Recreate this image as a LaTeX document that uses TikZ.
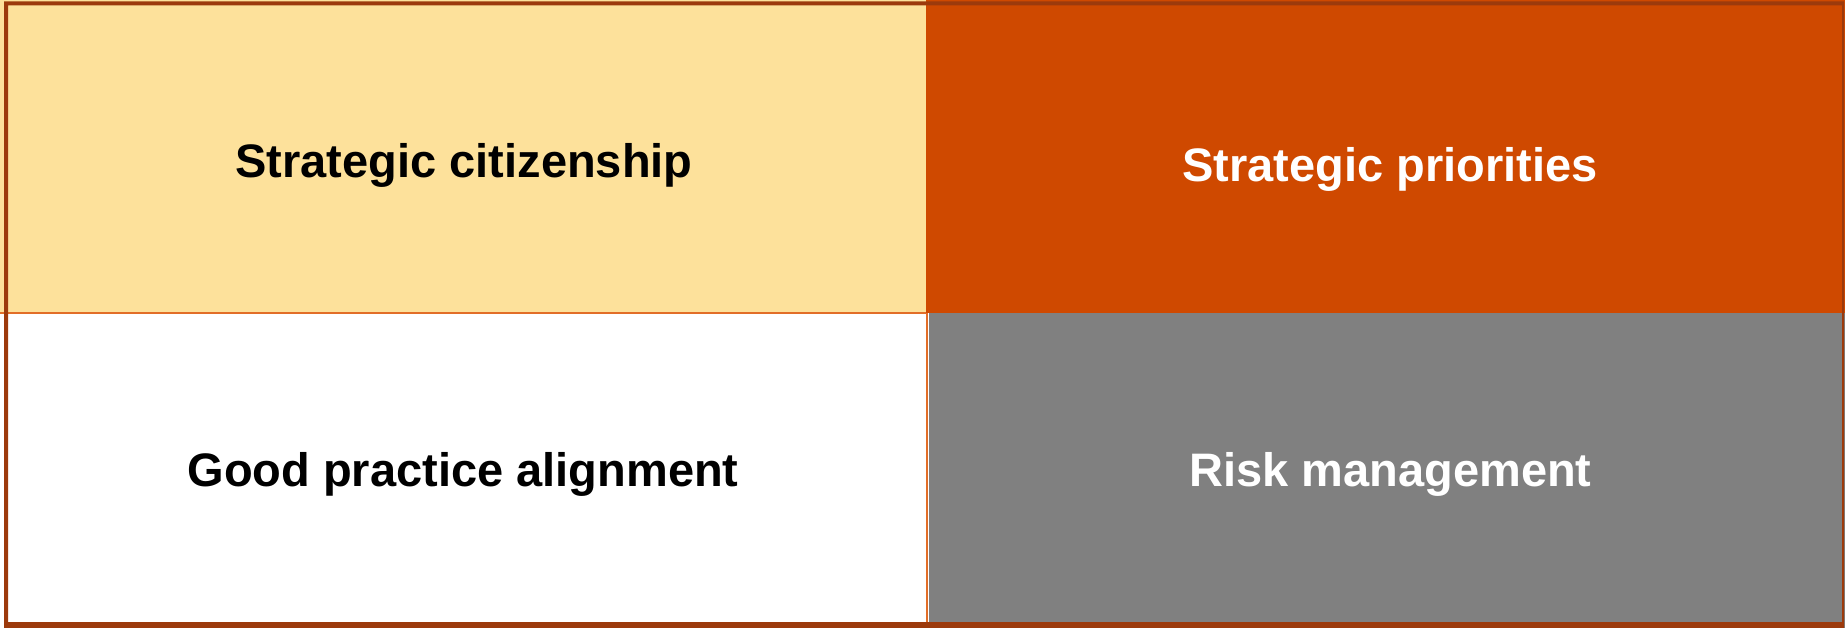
\documentclass[tikz,border=0pt]{standalone}
\usepackage{fontspec}
\setmainfont{Liberation Sans}
\definecolor{cellyellow}{RGB}{253,225,155}
\definecolor{cellorange}{RGB}{207,73,0}
\definecolor{cellgray}{RGB}{128,128,128}
\definecolor{frameline}{RGB}{156,58,12}
\definecolor{sepline}{RGB}{226,110,40}
\begin{document}
\begin{tikzpicture}[x=1pt,y=-1pt,
  cell/.style={rectangle,inner sep=0pt,outer sep=0pt,anchor=north west},
  celltext/.style={anchor=base,inner sep=0pt,font=\bfseries\fontsize{47}{52}\selectfont}]
\useasboundingbox (0,0) rectangle (1845,628);
\fill[white] (0,0) rectangle (1845,628);
\node[cell,fill=cellyellow,minimum width=926pt,minimum height=313pt] (sc) at (0,0) {};
\node[cell,fill=cellorange,minimum width=919pt,minimum height=313pt] (sp) at (926,0) {};
\node[cell,fill=white,minimum width=926pt,minimum height=315pt] (gp) at (0,313) {};
\node[cell,fill=cellgray,minimum width=916pt,minimum height=315pt] (rm) at (929,313) {};
\node[celltext,text=black] (tsc) at (464,177.5) {Strategic citizenship};
\node[celltext,text=white] (tsp) at (1390,182) {Strategic priorities};
\node[celltext,text=black] (tgp) at (463,486.5) {Good practice alignment};
\node[celltext,text=white] (trm) at (1390.5,486.5) {Risk management};
\draw[sepline,line width=1.5pt] (sc.south west) -- (sc.south east);
\draw[sepline,line width=1.5pt] ([xshift=1pt]gp.north east) -- ([xshift=1pt]gp.south east);
\fill[frameline,even odd rule] (4,1.5) rectangle (1844,628) (8,5.5) rectangle (1842,622);
\end{tikzpicture}
\end{document}
